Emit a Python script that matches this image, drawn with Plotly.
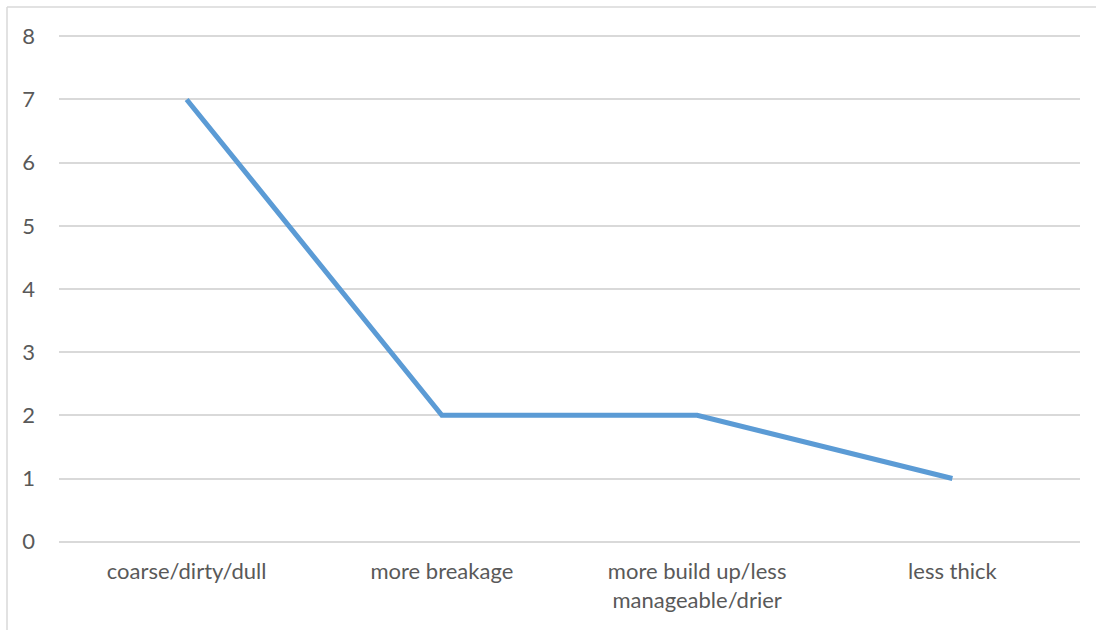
import plotly.graph_objects as go

categories = ["coarse/dirty/dull", "more breakage", "more build up/less<br>manageable/drier", "less thick"]
values = [7, 2, 2, 1]
y_ticks = [0, 1, 2, 3, 4, 5, 6, 7, 8]

W, H = 1096, 630
L, R, T, B = 59, 16, 35, 87
pw, ph = W - L - R, H - T - B

fig = go.Figure()
fig.add_trace(go.Scatter(
    x=categories, y=values, mode="lines",
    line=dict(color="#5b9bd5", width=5),
    hoverinfo="skip", showlegend=False,
))

# outer chart border (light gray) starting near (7,7)
bx = (7 - L) / pw
by = (H - B - 7) / ph
fig.add_shape(type="line", xref="paper", yref="paper", x0=bx, x1=bx, y0=-0.5, y1=by,
              line=dict(color="#d9d9d9", width=1.5))
fig.add_shape(type="line", xref="paper", yref="paper", x0=bx, x1=1.5, y0=by, y1=by,
              line=dict(color="#d9d9d9", width=1.5))

fig.update_layout(
    width=W, height=H,
    margin=dict(l=L, r=R, t=T, b=B, pad=0),
    paper_bgcolor="white", plot_bgcolor="white",
    font=dict(family="Lato, Open Sans, sans-serif", size=22, color="#595959"),
    xaxis=dict(
        type="category", range=[-0.5, 3.5], showgrid=False, zeroline=False,
        showline=False, ticks="", ticklabelstandoff=13, fixedrange=True,
    ),
    yaxis=dict(
        range=[-0.02, 8.02], tickvals=y_ticks, showgrid=True, gridcolor="#d9d9d9", gridwidth=1.5,
        zeroline=False, showline=False, ticks="", ticklabelstandoff=23, fixedrange=True,
    ),
)

fig.write_html("out.html")
